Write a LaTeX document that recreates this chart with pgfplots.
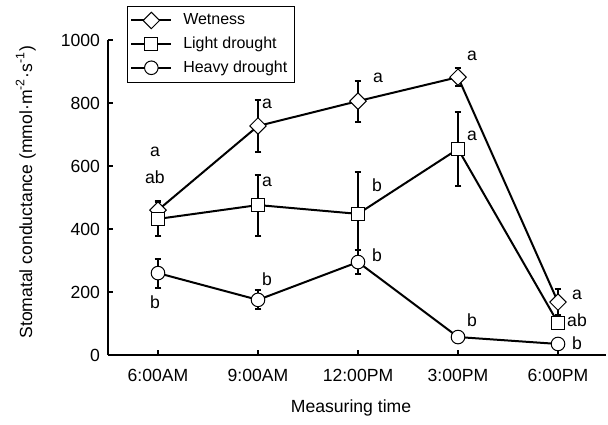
\documentclass[border=0pt]{standalone}
\usepackage{pgfplots}
\pgfplotsset{compat=1.18}
\usepackage{fontspec}
\setmainfont{Liberation Sans}
\newcommand{\ff}{\fontsize{8.8}{10.5}\selectfont}
\newcommand{\lf}{\fontsize{8}{9.6}\selectfont}
\pgfplotstableread{
x  y   e
0  460 30
1  727 83
2  806 65
3  882 28
4  168 40
}\wet
\pgfplotstableread{
x  y   e
0  432 55
1  476 97
2  448 133
3  654 117
4  102 0
}\light
\pgfplotstableread{
x  y   e
0  260 46
1  175 30
2  295 37
3  57  0
4  35  0
}\heavy
\begin{document}
\begin{tikzpicture}
\begin{axis}[
  scale only axis,
  width=249pt, height=157.5pt,
  xmin=-0.5, xmax=4.48, ymin=0, ymax=1000,
  axis x line=bottom, axis y line=left,
  axis line style={-, line width=0.75pt},
  tick align=inside,
  major tick length=2.5pt,
  tick style={line width=0.75pt, black},
  xtick={0,1,2,3,4},
  xticklabels={6:00AM,9:00AM,12:00PM,3:00PM,6:00PM},
  ytick={0,200,400,600,800,1000},
  /pgf/number format/1000 sep={},
  /pgf/number format/assume math mode=true,
  tick label style={font=\ff},
  xticklabel style={yshift=-3.5pt},
  yticklabel style={xshift=-0.5pt},
  label style={font=\ff},
  xlabel={Measuring time},
  xlabel style={at={(axis description cs:0.488,-0.168)}, anchor=center},
  ylabel={Stomatal conductance (mmol·m\textsuperscript{-2}·s\textsuperscript{-1})},
  ylabel style={at={(axis description cs:-0.165,0.517)}, anchor=center},
  clip=false,
  legend style={at={(rel axis cs:0.038,1.108)}, anchor=north west, font=\lf,
    draw=black, line width=0.5pt, fill=white, inner xsep=1.5pt, inner ysep=1.5pt,
    row sep=0.6pt, cells={anchor=west},
    /tikz/every odd column/.append style={column sep=3.5pt}},
  legend cell align=left,
  legend image code/.code={\draw[mark repeat=2,mark phase=2] plot coordinates {(0cm,0cm) (0.35cm,0cm) (0.7cm,0cm)};},
]
% error bars first, drawn behind the markers
\addplot[draw=none, mark=none, forget plot, error bars/.cd, y dir=both, y explicit,
  error bar style={draw=black, line width=1pt},
  error mark options={draw=black, rotate=90, mark size=1.7pt, line width=1pt}]
  table[x=x, y=y, y error=e] {\wet};
\addplot[draw=none, mark=none, forget plot, error bars/.cd, y dir=both, y explicit,
  error bar style={draw=black, line width=1pt},
  error mark options={draw=black, rotate=90, mark size=1.7pt, line width=1pt}]
  table[x=x, y=y, y error=e] {\light};
\addplot[draw=none, mark=none, forget plot, error bars/.cd, y dir=both, y explicit,
  error bar style={draw=black, line width=1pt},
  error mark options={draw=black, rotate=90, mark size=1.7pt, line width=1pt}]
  table[x=x, y=y, y error=e] {\heavy};
% lines and markers
\addplot[black, line width=1pt, mark=square*, mark size=2.9pt,
  mark options={rotate=45, fill=white, draw=black, line width=0.5pt, solid}]
  table[x=x, y=y] {\wet};
\addlegendentry{Wetness}
\addplot[black, line width=1pt, mark=square*, mark size=3.3pt,
  mark options={fill=white, draw=black, line width=0.5pt, solid}]
  table[x=x, y=y] {\light};
\addlegendentry{Light drought}
\addplot[black, line width=1pt, mark=*, mark size=3.4pt,
  mark options={fill=white, draw=black, line width=0.5pt, solid}]
  table[x=x, y=y] {\heavy};
\addlegendentry{Heavy drought}
% significance letters
\begin{scope}[every node/.style={font=\ff, inner sep=0pt}]
\node at (axis cs:-0.03,644) {a};
\node at (axis cs:-0.03,565) {ab};
\node at (axis cs:-0.03,168) {b};
\node at (axis cs:1.09,797) {a};
\node at (axis cs:1.09,549) {a};
\node at (axis cs:1.09,241) {b};
\node at (axis cs:2.2,879) {a};
\node at (axis cs:2.19,540) {b};
\node at (axis cs:2.19,317) {b};
\node at (axis cs:3.14,949) {a};
\node at (axis cs:3.14,695) {a};
\node at (axis cs:3.14,111) {b};
\node at (axis cs:4.19,190) {a};
\node at (axis cs:4.19,111) {ab};
\node at (axis cs:4.19,38) {b};
\end{scope}
\coordinate (bl) at (axis cs:-1.58,-222.2);
\coordinate (tr) at (axis cs:4.5,1127);
\end{axis}
\pgfresetboundingbox
\path[use as bounding box] (bl) rectangle (tr);
\end{tikzpicture}
\end{document}
